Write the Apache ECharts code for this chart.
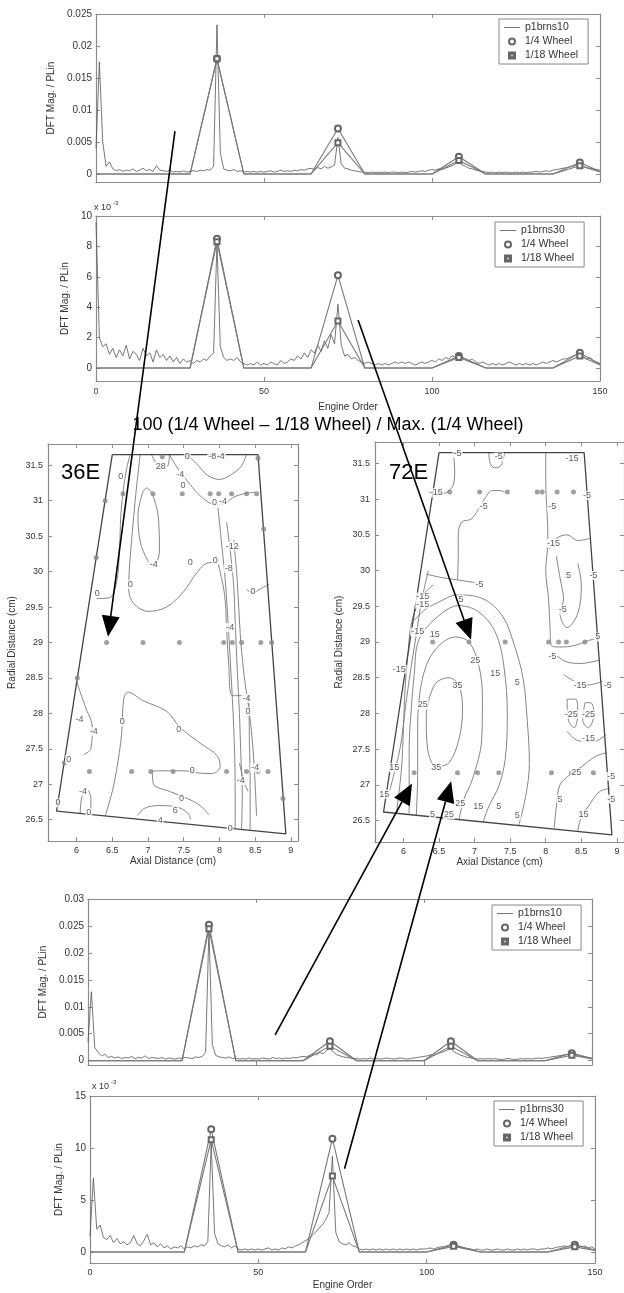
<!DOCTYPE html>
<html><head><meta charset="utf-8">
<script src="https://cdn.jsdelivr.net/npm/echarts@6/dist/echarts.min.js"></script>
<style>html,body{margin:0;padding:0;background:#fff}#c{width:624px;height:1293px}</style>
</head><body><div id="c"></div>
<script>
// ---------------- DATA ----------------
// DFT spectra, one value per engine order 0..150
const specTop10 = [
0.004,0.0175,0.005,0.0012,0.0019,0.0008,0.0005,0.0007,0.0004,0.0006,
0.0005,0.0008,0.0004,0.0006,0.0009,0.0005,0.0007,0.0004,0.0013,0.0006,
0.0005,0.0004,0.0006,0.0003,0.0004,0.0003,0.0005,0.0003,0.0004,0.0005,
0.0004,0.0006,0.0005,0.0007,0.0006,0.0012,0.0233,0.0033,0.0008,0.0006,
0.0005,0.0007,0.0004,0.0005,0.0003,0.0004,0.0003,0.0004,0.0003,0.0004,
0.0003,0.0004,0.0005,0.0003,0.0004,0.0006,0.0004,0.0005,0.0004,0.0006,
0.0005,0.0007,0.0006,0.0008,0.0009,0.0007,0.0010,0.0008,0.0012,0.0009,
0.0011,0.0014,0.0057,0.0016,0.0009,0.0008,0.0006,0.0005,0.0004,0.0003,
0.0003,0.0002,0.0003,0.0002,0.0003,0.0002,0.0003,0.0002,0.0003,0.0003,
0.0002,0.0003,0.0002,0.0003,0.0004,0.0003,0.0004,0.0005,0.0004,0.0006,
0.0007,0.0006,0.0008,0.0007,0.0009,0.0011,0.0013,0.0016,0.0021,0.0014,
0.0012,0.0009,0.0008,0.0006,0.0005,0.0004,0.0003,0.0002,0.0003,0.0002,
0.0003,0.0002,0.0003,0.0002,0.0002,0.0003,0.0002,0.0003,0.0002,0.0003,
0.0003,0.0004,0.0003,0.0004,0.0005,0.0004,0.0006,0.0007,0.0008,0.0009,
0.0010,0.0011,0.0012,0.0014,0.0015,0.0012,0.0010,0.0009,0.0008,0.0007,0.0006];
const specTop30 = [ // x 1e-3
9.6,2.0,1.4,1.6,0.9,1.3,0.7,1.2,0.8,1.5,
0.6,1.1,0.9,0.5,1.3,0.8,1.0,0.4,1.2,0.7,
0.9,0.5,0.8,0.4,0.7,0.3,0.6,0.4,0.5,0.3,
0.5,0.4,0.6,0.5,0.8,1.0,8.2,1.4,0.7,0.5,
0.6,0.5,0.7,0.4,0.3,0.2,0.3,0.2,0.4,0.2,
0.3,0.2,0.4,0.3,0.2,0.5,0.3,0.4,0.6,0.5,
0.8,0.6,1.0,0.7,1.2,1.0,1.5,1.1,1.8,1.3,
2.2,1.6,4.2,1.5,0.8,0.9,0.6,0.7,0.5,0.4,
0.3,0.4,0.3,0.2,0.3,0.2,0.3,0.2,0.3,0.4,
0.3,0.4,0.3,0.4,0.3,0.2,0.3,0.4,0.3,0.4,
0.5,0.4,0.6,0.5,0.7,0.6,0.8,0.7,0.9,0.7,
0.6,0.5,0.6,0.4,0.3,0.4,0.3,0.2,0.3,0.2,
0.3,0.2,0.3,0.4,0.3,0.2,0.3,0.2,0.3,0.2,
0.3,0.2,0.3,0.4,0.3,0.4,0.5,0.4,0.5,0.6,
0.6,0.7,0.8,0.9,1.0,0.8,0.6,0.7,0.5,0.4,0.3];
const specBot10 = [
0.0035,0.0128,0.0025,0.0015,0.0009,0.0012,0.0006,0.0008,0.0005,0.0007,
0.0004,0.0006,0.0005,0.0008,0.0004,0.0006,0.0005,0.0009,0.0004,0.0006,
0.0005,0.0004,0.0006,0.0003,0.0005,0.0004,0.0003,0.0005,0.0004,0.0006,
0.0005,0.0004,0.0007,0.0006,0.0008,0.0015,0.0245,0.0030,0.0010,0.0007,
0.0006,0.0005,0.0007,0.0004,0.0005,0.0003,0.0004,0.0003,0.0005,0.0003,
0.0004,0.0003,0.0005,0.0004,0.0003,0.0006,0.0004,0.0005,0.0003,0.0005,
0.0004,0.0006,0.0005,0.0007,0.0008,0.0007,0.0010,0.0012,0.0011,0.0015,
0.0013,0.0019,0.0024,0.0016,0.0011,0.0009,0.0007,0.0006,0.0005,0.0004,
0.0004,0.0003,0.0004,0.0003,0.0005,0.0003,0.0004,0.0003,0.0004,0.0005,
0.0004,0.0003,0.0004,0.0005,0.0004,0.0003,0.0004,0.0005,0.0006,0.0007,
0.0008,0.0009,0.0011,0.0010,0.0013,0.0015,0.0017,0.0020,0.0023,0.0016,
0.0013,0.0010,0.0008,0.0006,0.0005,0.0004,0.0003,0.0004,0.0003,0.0004,
0.0003,0.0004,0.0003,0.0002,0.0003,0.0004,0.0003,0.0002,0.0003,0.0004,
0.0003,0.0004,0.0003,0.0004,0.0005,0.0004,0.0005,0.0006,0.0007,0.0008,
0.0009,0.0010,0.0011,0.0012,0.0013,0.0011,0.0009,0.0008,0.0007,0.0006,0.0005];
const specBot30 = [ // x 1e-3
1.5,7.1,2.2,2.6,1.4,1.2,1.6,0.9,1.3,0.8,
1.0,0.7,0.9,1.6,0.8,0.6,1.1,1.7,0.7,0.9,
0.5,0.8,0.4,0.6,0.3,0.5,0.4,0.6,0.3,0.5,
0.4,0.6,0.5,0.7,0.6,1.0,10.5,1.8,0.8,0.6,
0.5,0.7,0.4,0.6,0.3,0.2,0.3,0.2,0.3,0.2,
0.3,0.2,0.3,0.4,0.2,0.3,0.2,0.4,0.3,0.5,
0.4,0.6,0.7,0.9,1.1,1.3,1.6,1.9,2.3,2.6,
3.1,3.8,9.2,1.9,1.0,0.8,0.7,0.9,0.6,0.5,
0.3,0.2,0.3,0.2,0.3,0.2,0.3,0.2,0.3,0.2,
0.3,0.2,0.3,0.2,0.3,0.2,0.3,0.2,0.3,0.3,
0.3,0.4,0.3,0.4,0.5,0.5,0.6,0.7,0.8,0.6,
0.5,0.4,0.3,0.3,0.2,0.3,0.2,0.2,0.3,0.2,
0.2,0.3,0.2,0.2,0.3,0.2,0.2,0.3,0.2,0.3,
0.2,0.3,0.3,0.2,0.3,0.3,0.4,0.3,0.4,0.5,
0.5,0.6,0.5,0.7,0.8,0.6,0.5,0.6,0.4,0.5,0.3];

// wheel-averaged series
const wheelOrders = [0,28,36,44,64,72,80,100,108,116,136,144,150];
const peakOrders = [36,72,108,144];
const quarterTop10  = [0,0,0.018,0,0,0.0071,0,0,0.0027,0,0,0.0018,0.0004];
const eighteenTop10 = [0,0,0.018,0,0,0.0049,0,0,0.0021,0,0,0.0013,0.0003];
const quarterTop30  = [0,0,8.5,0,0,6.1,0,0,0.8,0,0,1.0,0.25];
const eighteenTop30 = [0,0,8.3,0,0,3.1,0,0,0.7,0,0,0.8,0.2];
const quarterBot10  = [0,0,0.0252,0,0,0.0036,0,0,0.0036,0,0,0.0014,0.0004];
const eighteenBot10 = [0,0,0.0245,0,0,0.0027,0,0,0.0027,0,0,0.0010,0.0003];
const quarterBot30  = [0,0,11.8,0,0,10.9,0,0,0.7,0,0,0.7,0.2];
const eighteenBot30 = [0,0,10.8,0,0,7.3,0,0,0.55,0,0,0.5,0.15];

// tick labels
const orderTicks = [0,50,100,150];
const ticksTop10 = [0,0.005,0.01,0.015,0.02,0.025];
const ticksTop30 = [0,2,4,6,8,10];
const ticksBot10 = [0,0.005,0.01,0.015,0.02,0.025,0.03];
const ticksBot30 = [0,5,10,15];
const axialTicks = [6,6.5,7,7.5,8,8.5,9];
const radialTicks = [26.5,27,27.5,28,28.5,29,29.5,30,30.5,31,31.5];

// measurement region boundary (axial, radial)
const boundary = [[6.5,31.65],[8.54,31.65],[8.93,26.3],[5.72,26.62],[6.5,31.65]];

// 36E contour lines
const c36Lines = [
 [[6.89,31.65],[6.83,31.1],[6.78,30.55],[6.74,30.05],[6.73,29.75],[6.8,29.55],[7.0,29.44],[7.26,29.5],[7.5,29.72],[7.68,29.98],[7.83,30.12],[7.95,30.13],[8.03,29.9],[8.08,29.6],[8.1,29.2],[8.13,28.7],[8.18,28.25],[8.4,28.25],[8.42,27.6],[8.43,27.0],[8.43,26.34]],
 [[6.93,31.13],[6.86,30.8],[6.89,30.43],[7.0,30.15],[7.08,30.09],[7.16,30.29],[7.15,30.71],[7.08,31.04],[6.98,31.18],[6.93,31.13]],
 [[6.28,29.62],[6.46,29.63],[6.56,29.85],[6.6,30.3],[6.62,30.8],[6.66,31.2],[6.7,31.45],[6.75,31.65]],
 [[7.55,31.65],[7.7,31.5],[7.83,31.36],[8.0,31.3],[8.15,31.36],[8.3,31.48],[8.38,31.65]],
 [[7.3,31.65],[7.42,31.45],[7.55,31.28],[7.7,31.1],[7.86,30.97],[7.96,30.94],[8.08,30.96],[8.2,31.05],[8.35,31.1],[8.5,31.12]],
 [[7.05,31.65],[7.12,31.52],[7.2,31.45],[7.28,31.5],[7.3,31.65]],
 [[7.98,30.9],[8.03,30.4],[8.08,29.9],[8.12,29.3],[8.16,28.6],[8.2,27.8],[8.22,27.0],[8.22,26.38]],
 [[8.1,30.7],[8.15,30.3],[8.2,29.8],[8.22,29.3],[8.25,28.6],[8.28,28.0],[8.3,27.4],[8.32,26.85],[8.31,26.37]],
 [[8.2,30.45],[8.24,30.0],[8.27,29.5],[8.3,29.0],[8.35,28.5],[8.42,28.0],[8.47,27.5],[8.5,27.0],[8.52,26.55]],
 [[8.38,29.75],[8.47,29.7],[8.58,29.76],[8.7,29.82]],
 [[6.4,26.55],[6.5,26.9],[6.56,27.2],[6.63,27.7],[6.66,28.2],[6.72,28.3],[6.93,28.18],[7.26,28.03],[7.45,27.8],[7.73,27.58],[7.97,27.4],[8.01,27.25],[7.9,27.15],[7.7,27.16],[7.5,27.19],[7.2,27.19],[7.06,27.18],[7.08,27.0],[7.3,26.9],[7.55,26.8],[7.73,26.7],[7.85,26.57]],
 [[6.85,26.56],[6.95,26.66],[7.15,26.7],[7.4,26.68],[7.55,26.6],[7.6,26.5]],
 [[6.05,26.58],[6.08,26.85],[6.15,26.92],[6.2,26.8],[6.2,26.58]],
 [[6.0,28.45],[6.12,28.1],[6.22,27.8],[6.2,27.5],[6.1,27.42]],
 [[8.28,27.3],[8.34,27.05],[8.4,26.9]]
];
const c36Labels = [
 ['0',6.62,31.34],['28',7.18,31.48],['-4',7.45,31.37],['0',7.55,31.62],['-8',7.9,31.62],['-4',8.02,31.62],
 ['0',7.49,31.22],['0',7.93,30.97],['-4',8.05,30.99],['-12',8.18,30.36],['-8',8.13,30.05],['-4',7.08,30.1],
 ['0',7.59,30.13],['0',7.94,30.16],['0',6.75,29.82],['0',6.29,29.69],['0',8.47,29.72],['-4',8.15,29.21],
 ['-4',6.04,27.92],['-4',6.24,27.74],['0',6.64,27.88],['0',7.43,27.77],['0',8.4,28.03],['-4',8.38,28.21],
 ['0',7.62,27.19],['-4',8.3,27.05],['-4',8.5,27.23],['0',7.47,26.8],['6',7.38,26.63],['-4',6.09,26.9],
 ['0',6.17,26.6],['0',5.89,27.35],['0',5.74,26.74],['4',7.17,26.49],['0',8.15,26.37]
];
const c36Points = [
 [6.42,29],[6.93,29],[7.44,29],[8.06,29],[8.18,29],[8.31,29],[8.58,29],
 [6.18,27.18],[6.77,27.18],[7.04,27.18],[7.35,27.18],[7.61,27.18],[8.10,27.18],[8.38,27.18],[8.54,27.18],[8.68,27.18],
 [6.65,31.1],[7.07,31.1],[7.48,31.1],[7.87,31.1],[7.99,31.1],[8.17,31.1],[8.38,31.1],[8.52,31.1],
 [6.40,31.0],[6.275,30.2],[6.01,28.5],[5.83,27.3],[5.74,26.75],
 [8.54,31.6],[8.62,30.6],[8.73,29.0],[8.89,26.8],[7.2,31.62],[7.55,31.62],[7.97,31.62]
];

// 72E contour lines
const c72Lines = [
 [[6.36,28.2],[6.46,28.43],[6.64,28.5],[6.78,28.39],[6.83,28.06],[6.78,27.64],[6.64,27.31],[6.46,27.26],[6.34,27.5],[6.32,27.97],[6.36,28.2]],
 [[6.18,26.57],[6.2,27.17],[6.2,27.73],[6.22,28.2],[6.32,28.67],[6.5,28.95],[6.73,29.07],[6.92,29.0],[7.06,28.67],[7.11,28.2],[7.1,27.64],[6.97,27.08],[6.85,26.8],[6.78,26.51]],
 [[6.08,26.6],[6.08,27.5],[6.11,28.06],[6.15,28.53],[6.22,29.04],[6.5,29.37],[6.78,29.51],[7.06,29.42],[7.29,29.14],[7.41,28.67],[7.46,27.97],[7.43,27.36],[7.34,26.98],[7.2,26.7],[7.12,26.48]],
 [[6.15,29.3],[6.3,29.45],[6.48,29.55],[6.76,29.66],[7.13,29.6],[7.4,29.35],[7.55,28.98],[7.68,28.5],[7.74,27.9],[7.77,27.3],[7.72,26.85],[7.62,26.43]],
 [[6.32,29.95],[6.55,29.9],[6.75,29.87],[6.95,29.84],[7.07,29.82]],
 [[6.76,29.87],[6.77,30.2],[6.77,30.5],[6.82,30.68],[6.95,30.72],[7.05,30.85],[7.15,31.02],[7.25,31.12],[7.35,31.12],[7.42,31.1]],
 [[7.2,31.65],[7.22,31.5],[7.28,31.44],[7.36,31.46],[7.4,31.55],[7.42,31.65]],
 [[8.0,31.65],[8.0,31.2],[8.02,30.8],[8.03,30.4],[8.0,30.0],[8.04,29.6],[8.06,29.2],[8.08,28.95],[8.2,28.93],[8.4,28.95],[8.6,29.02],[8.72,29.05]],
 [[8.1,28.85],[8.3,28.72],[8.5,28.7],[8.76,28.75]],
 [[8.05,30.3],[8.15,30.45],[8.3,30.5],[8.45,30.42],[8.62,30.45]],
 [[8.15,30.2],[8.2,29.9],[8.25,29.6],[8.2,29.4],[8.3,29.2],[8.45,29.4],[8.5,29.8],[8.45,30.1]],
 [[8.25,28.55],[8.4,28.45],[8.6,28.4],[8.8,28.45]],
 [[8.3,28.2],[8.32,27.9],[8.4,27.8],[8.45,28.0],[8.42,28.2],[8.3,28.2]],
 [[8.55,28.15],[8.52,27.9],[8.6,27.8],[8.68,28.0],[8.63,28.15],[8.55,28.15]],
 [[8.3,27.75],[8.45,27.62],[8.65,27.6],[8.85,27.7]],
 [[8.12,26.4],[8.15,26.7],[8.2,27.0],[8.35,27.15],[8.5,27.25],[8.7,27.4],[8.86,27.45]],
 [[8.45,26.35],[8.5,26.55],[8.6,26.7],[8.75,26.9],[8.9,26.95]],
 [[5.8,26.9],[5.95,27.5],[6.03,28.1],[6.1,28.6],[6.18,29.1],[6.25,29.55],[6.35,30.0]],
 [[5.9,26.6],[5.97,27.2],[6.0,27.8],[6.02,28.3],[6.06,28.8],[6.12,29.3],[6.27,29.65],[6.42,29.8]],
 [[6.35,31.1],[6.55,31.08],[6.7,31.2],[6.72,31.4],[6.7,31.65]]
];
const c72Labels = [
 ['-5',6.76,31.64],['-5',7.34,31.59],['-15',8.37,31.57],['-15',6.46,31.09],['-5',7.13,30.9],['-5',8.09,30.89],
 ['-5',8.58,31.05],['-15',8.11,30.38],['5',8.32,29.93],['-5',8.67,29.93],['-5',7.07,29.81],['-15',6.27,29.63],
 ['-15',6.27,29.53],['5',6.81,29.6],['-5',8.24,29.45],['-15',6.2,29.14],['15',6.44,29.11],['25',7.01,28.74],
 ['15',7.29,28.56],['5',7.6,28.43],['35',6.76,28.39],['-15',5.94,28.62],['25',6.27,28.12],['-5',8.09,28.8],
 ['5',8.73,29.07],['-15',8.48,28.39],['-5',8.87,28.39],['-25',8.36,27.99],['-25',8.6,27.99],['-15',8.6,27.65],
 ['35',6.46,27.24],['15',5.87,27.24],['15',5.73,26.87],['25',6.8,26.74],['15',7.05,26.7],['5',7.34,26.7],
 ['5',7.6,26.57],['5',8.2,26.8],['-5',8.92,26.8],['25',8.43,27.17],['-5',8.92,27.12],['15',8.53,26.58],
 ['5',6.41,26.58],['25',6.64,26.58]
];
const c72Points = [
 [6.65,31.1],[7.07,31.1],[7.46,31.1],[7.88,31.1],[7.95,31.1],[8.16,31.1],[8.39,31.1],
 [6.41,29],[6.92,29],[7.43,29],[8.04,29],[8.18,29],[8.29,29],[8.55,29],
 [6.15,27.17],[6.76,27.17],[7.04,27.17],[7.34,27.17],[8.08,27.17],[8.36,27.17],[8.67,27.17]
];

// arrows: from a point in one panel to a point in another (panel index, [x,y])
const arrows = [
 {from:[0,[23.5,0.0067]], to:[2,[6.44,29.08]]},
 {from:[1,[78,3.16]],     to:[3,[6.95,29.03]]},
 {from:[4,[55.7,0.0048]], to:[3,[6.12,27.02]]},
 {from:[5,[75.6,8.0]],    to:[3,[6.67,27.05]]}
];

// ---------------- CHART ----------------
const FONT = '"Liberation Sans", Arial, Helvetica, sans-serif';
const AX = '#8c8c8c', TX = '#333';
const chart = echarts.init(document.getElementById('c'), null, {renderer:'canvas'});

const grids = [], xAxes = [], yAxes = [], series = [];
function addPanel(p){
  const gi = grids.length;
  grids.push({left:p.left, top:p.top, width:p.width, height:p.height});
  const line = {show:true, onZero:false, lineStyle:{color:AX, width:1.2}};
  const tick = (vals)=>({show:true, inside:true, length:4, lineStyle:{color:AX}, customValues: vals});
  const xb = {gridIndex:gi, type:'value', min:p.xmin, max:p.xmax, splitLine:{show:false}, axisLine:line};
  xAxes.push(Object.assign({}, xb, {position:'bottom', axisTick:tick(p.xticks),
    axisLabel:{show:p.xlabels, customValues:p.xticks, margin:p.xmargin||5, fontSize:p.xfs||9, color:TX, fontFamily:FONT},
    name:p.xname||'', nameLocation:'middle', nameGap:p.xnameGap||18,
    nameTextStyle:{fontSize:10, color:TX, fontFamily:FONT}}));
  xAxes.push(Object.assign({}, xb, {position:'top', axisTick:tick(p.xticks), axisLabel:{show:false}}));
  const yb = {gridIndex:gi, type:'value', min:p.ymin, max:p.ymax, splitLine:{show:false}, axisLine:line};
  yAxes.push(Object.assign({}, yb, {position:'left', axisTick:tick(p.yticks),
    axisLabel:{show:true, customValues:p.yticks, margin:p.ymargin||4, fontSize:p.yfs||9.5, color:TX, fontFamily:FONT},
    name:p.yname||'', nameLocation:'middle', nameRotate:90, nameGap:p.ynameGap||30,
    nameTextStyle:{fontSize:10, color:TX, fontFamily:FONT}}));
  yAxes.push(Object.assign({}, yb, {position:'right', axisTick:tick(p.yticks), axisLabel:{show:false}}));
  return gi;
}

function dftPanel(p, spec, specName, q, e){
  const gi = addPanel(Object.assign({xmin:0, xmax:150, xticks:orderTicks, yname:'DFT Mag. / PLin'}, p));
  const ax = {xAxisIndex:2*gi, yAxisIndex:2*gi};
  series.push(Object.assign({type:'line', name:specName, symbol:'none', data:spec.map((v,i)=>[i,v]),
    lineStyle:{color:'#555', width:0.8}, itemStyle:{color:'#555'}, z:3, silent:true}, ax));
  const mk = (v)=> peakOrders.indexOf(v[0])>=0 ? 6 : 0;
  series.push(Object.assign({type:'line', name:'1/4 Wheel', symbol:'emptyCircle', symbolSize:mk, showAllSymbol:true,
    data:wheelOrders.map((o,i)=>[o,q[i]]), lineStyle:{color:'#777', width:1.1},
    itemStyle:{color:'#666', borderColor:'#666', borderWidth:1}, z:4, silent:true}, ax));
  series.push(Object.assign({type:'line', name:'1/18 Wheel', symbol:'emptyRect', symbolSize:(v)=>mk(v)?5:0, showAllSymbol:true,
    data:wheelOrders.map((o,i)=>[o,e[i]]), lineStyle:{color:'#777', width:1.1},
    itemStyle:{color:'#666', borderColor:'#666', borderWidth:1}, z:4, silent:true}, ax));
  return gi;
}

function contourPanel(p, lines, labels, pts){
  const gi = addPanel(Object.assign({xmin:5.6, xmax:9.1, ymin:26.2, ymax:31.8, xticks:axialTicks, yticks:radialTicks,
    xlabels:true, xname:'Axial Distance (cm)', xnameGap:13, yname:'Radial Distance (cm)', ynameGap:31, xfs:9, yfs:9, ymargin:5, xmargin:5}, p));
  const ax = {xAxisIndex:2*gi, yAxisIndex:2*gi};
  lines.forEach(l => series.push(Object.assign({type:'line', symbol:'none', smooth:0.35, data:l,
    lineStyle:{color:'#777', width:0.9}, z:2, silent:true}, ax)));
  series.push(Object.assign({type:'line', symbol:'none', data:boundary, lineStyle:{color:'#444', width:1.3}, z:3, silent:true}, ax));
  series.push(Object.assign({type:'scatter', symbol:'circle', symbolSize:5, data:pts, itemStyle:{color:'#888'}, z:4, silent:true}, ax));
  series.push(Object.assign({type:'scatter', symbolSize:1, data:labels.map(l=>[l[1],l[2],l[0]]),
    itemStyle:{color:'rgba(0,0,0,0)'}, z:6, silent:true,
    label:{show:true, position:'inside', formatter:(q)=>q.data[2], fontSize:9, color:'#333', fontFamily:FONT,
      backgroundColor:'#fff', padding:[0,1]}}, ax));
  return gi;
}

dftPanel({left:96, top:14, width:504, height:168, ymin:-0.00125, ymax:0.025, yticks:ticksTop10, xlabels:false, ynameGap:30, yfs:10},
  specTop10, 'p1brns10', quarterTop10, eighteenTop10);
dftPanel({left:96, top:216, width:504, height:165, ymin:-0.85, ymax:10, yticks:ticksTop30, xlabels:true, xmargin:6,
  xname:'Engine Order', xnameGap:21, ynameGap:19, yfs:10}, specTop30, 'p1brns30', quarterTop30, eighteenTop30);
contourPanel({left:48, top:444, width:250, height:397}, c36Lines, c36Labels, c36Points);
contourPanel({left:375, top:442, width:251, height:400}, c72Lines, c72Labels, c72Points);
dftPanel({left:88, top:899, width:504, height:166, ymin:-0.0008, ymax:0.03, yticks:ticksBot10, xlabels:false, ynameGap:30, yfs:10},
  specBot10, 'p1brns10', quarterBot10, eighteenBot10);
dftPanel({left:90, top:1096, width:505, height:167, ymin:-1.05, ymax:15, yticks:ticksBot30, xlabels:true, xmargin:5,
  xname:'Engine Order', xnameGap:17, ynameGap:14, yfs:10}, specBot30, 'p1brns30', quarterBot30, eighteenBot30);

const LINE_ICON = 'path://M0,0 L40,0 L40,2 L0,2 Z';
const SQUARE_ICON = 'path://M0,0 H10 V10 H0 Z M2.2,2.2 V7.8 H7.8 V2.2 Z';
function legendAt(left, top, lineName){
  return {left, top, orient:'vertical', selectedMode:false, itemWidth:16, itemHeight:6, itemGap:3,
    padding:[3,10,3,5], borderColor:'#888', borderWidth:1, backgroundColor:'#fff',
    textStyle:{fontSize:10.5, color:TX, fontFamily:FONT},
    data:[{name:lineName, icon:LINE_ICON}, {name:'1/4 Wheel', icon:'emptyCircle'},
          {name:'1/18 Wheel', icon:SQUARE_ICON, itemStyle:{color:'#666'}}]};
}

chart.setOption({
  animation:false,
  backgroundColor:'#fff',
  grid:grids, xAxis:xAxes, yAxis:yAxes, series,
  legend:[legendAt(499,19,'p1brns10'), legendAt(495,222,'p1brns30'), legendAt(492,905,'p1brns10'), legendAt(494,1101,'p1brns30')]
});

// annotations
const gfx = [
  {type:'text', x:328, y:425, z:50, style:{text:'100 (1/4 Wheel \u2013 1/18 Wheel) / Max. (1/4 Wheel)', fontSize:18, fontFamily:FONT, fill:'#000', align:'center', verticalAlign:'middle'}},
  {type:'text', x:61, y:473, z:50, style:{text:'36E', fontSize:22, fontFamily:FONT, fill:'#000', align:'left', verticalAlign:'middle'}},
  {type:'text', x:389, y:473, z:50, style:{text:'72E', fontSize:22, fontFamily:FONT, fill:'#000', align:'left', verticalAlign:'middle'}},
  {type:'text', x:94, y:208, z:50, style:{text:'x 10', fontSize:9, fontFamily:FONT, fill:TX, align:'left', verticalAlign:'middle'}},
  {type:'text', x:113, y:203, z:50, style:{text:'-3', fontSize:6, fontFamily:FONT, fill:TX, align:'left', verticalAlign:'middle'}},
  {type:'text', x:92, y:1087, z:50, style:{text:'x 10', fontSize:9, fontFamily:FONT, fill:TX, align:'left', verticalAlign:'middle'}},
  {type:'text', x:111, y:1082, z:50, style:{text:'-3', fontSize:6, fontFamily:FONT, fill:TX, align:'left', verticalAlign:'middle'}}
];
function toPx(g, v){ return chart.convertToPixel({xAxisIndex:2*g, yAxisIndex:2*g}, v); }
arrows.forEach(a=>{
  const s = toPx(a.from[0], a.from[1]), t = toPx(a.to[0], a.to[1]);
  const dx = t[0]-s[0], dy = t[1]-s[1], L = Math.hypot(dx,dy);
  const ux = dx/L, uy = dy/L, nx = -uy, ny = ux;
  const HL = 21, HW = 9;
  const bx = t[0]-ux*HL, by = t[1]-uy*HL;
  gfx.push({type:'line', z:60, shape:{x1:s[0], y1:s[1], x2:bx, y2:by}, style:{stroke:'#000', lineWidth:1.6}});
  gfx.push({type:'polygon', z:60, shape:{points:[[t[0],t[1]],[bx+nx*HW,by+ny*HW],[bx-nx*HW,by-ny*HW]]}, style:{fill:'#000'}});
});
chart.setOption({graphic:gfx});
</script></body></html>
